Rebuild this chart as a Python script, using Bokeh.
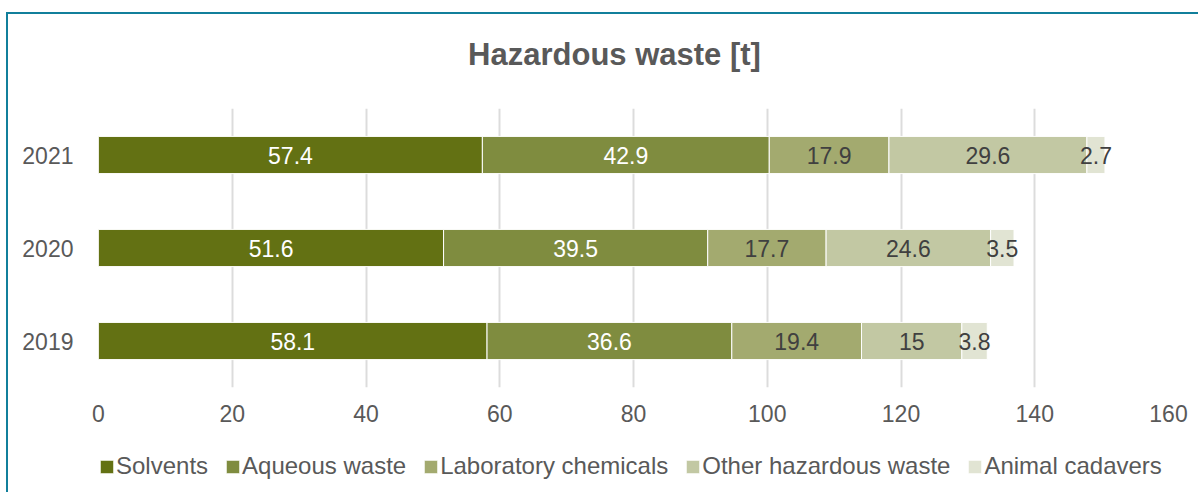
from bokeh.plotting import figure
from bokeh.layouts import column
from bokeh.models import (ColumnDataSource, FixedTicker, Legend, LegendItem, Range1d,
                          FactorRange, Label)
from bokeh.embed import file_html
from bokeh.resources import INLINE
from bokeh.core.properties import value
import pandas as pd

# ---- data ----
years = ["2019", "2020", "2021"]
categories = ["Solvents", "Aqueous waste", "Laboratory chemicals",
              "Other hazardous waste", "Animal cadavers"]
solvents = [58.1, 51.6, 57.4]
aqueous = [36.6, 39.5, 42.9]
laboratory = [19.4, 17.7, 17.9]
other = [15.0, 24.6, 29.6]
animal = [3.8, 3.5, 2.7]
x_ticks = [0, 20, 40, 60, 80, 100, 120, 140, 160]
title_text = "Hazardous waste [t]"

colors = ["#637113", "#7F8C3F", "#A3AA6F", "#C2C8A3", "#E1E4D3"]
label_colors = ["#FFFFFF", "#FFFFFF", "#404040", "#404040", "#404040"]
keys = ["solvents", "aqueous", "laboratory", "other", "animal"]

FONT = "Liberation Sans"
TXT = "#595959"
W = 1190

df = pd.DataFrame(dict(year=years, solvents=solvents, aqueous=aqueous,
                       laboratory=laboratory, other=other, animal=animal))
source = ColumnDataSource(df)


def blank(height):
    f = figure(width=W, height=height, x_range=Range1d(0, 1), y_range=Range1d(0, 1),
               min_border=0, toolbar_location=None, output_backend="svg",
               x_axis_location=None, y_axis_location=None)
    f.outline_line_color = None
    f.grid.visible = False
    return f


# ---- title strip ----
tf = blank(94)
tf.add_layout(Label(x=516, y=54, x_units="screen", y_units="screen", text=title_text,
                    text_align="center", text_baseline="middle",
                    text_font=FONT, text_font_size="31px", text_font_style="bold",
                    text_color=TXT))

# ---- main chart ----
p = figure(y_range=FactorRange(factors=years, range_padding=0),
           x_range=Range1d(0, 160),
           width=W, height=324,
           output_backend="svg", toolbar_location=None,
           min_border_left=90, min_border_right=30,
           min_border_top=0, min_border_bottom=45)

p.hbar_stack(keys, y="year", height=0.4, source=source,
             color=colors, line_color="white", line_width=1)

cum = df[keys].cumsum(axis=1)
for i, k in enumerate(keys):
    centers = (cum[k] - df[k] / 2).tolist()
    texts = ["{:g}".format(v) for v in df[k]]
    p.text(x=centers, y=years, text=texts, text_align="center",
           text_baseline="middle", text_color=label_colors[i],
           text_font=value(FONT), text_font_size="23px")

p.xaxis.ticker = FixedTicker(ticks=x_ticks)
for ax in (p.xaxis[0], p.yaxis[0]):
    ax.axis_line_color = None
    ax.major_tick_line_color = None
    ax.minor_tick_line_color = None
    ax.major_label_text_color = TXT
    ax.major_label_text_font = FONT
    ax.major_label_text_font_size = "23px"
p.xaxis.major_label_standoff = 11
p.yaxis.major_label_standoff = 19

p.ygrid.grid_line_color = None
p.xgrid.grid_line_color = "#DCDCDC"
p.xgrid.grid_line_width = 2
p.outline_line_color = None

# ---- legend strip (hidden copies of the series feed the legend swatches) ----
lf = blank(60)
hidden = lf.hbar_stack(keys, y="year", height=0.4, source=source,
                       color=colors, line_color="white", line_width=1)
for r in hidden:
    r.visible = False
legend = Legend(items=[LegendItem(label=c, renderers=[r]) for c, r in zip(categories, hidden)],
                orientation="horizontal", location=(0, 12),
                glyph_width=17, glyph_height=17, label_standoff=1, spacing=16,
                padding=0, margin=0, label_height=27,
                label_text_font=FONT, label_text_font_size="24px",
                label_text_color=TXT, border_line_color=None,
                background_fill_alpha=0, click_policy="none")
lf.add_layout(legend)

layout = column(tf, p, lf, spacing=0)
layout.styles = {"border-top": "2px solid #117F9B", "border-left": "2px solid #117F9B",
                 "margin-top": "12px", "margin-left": "6px"}

open("out.html", "w").write(file_html(layout, INLINE))
